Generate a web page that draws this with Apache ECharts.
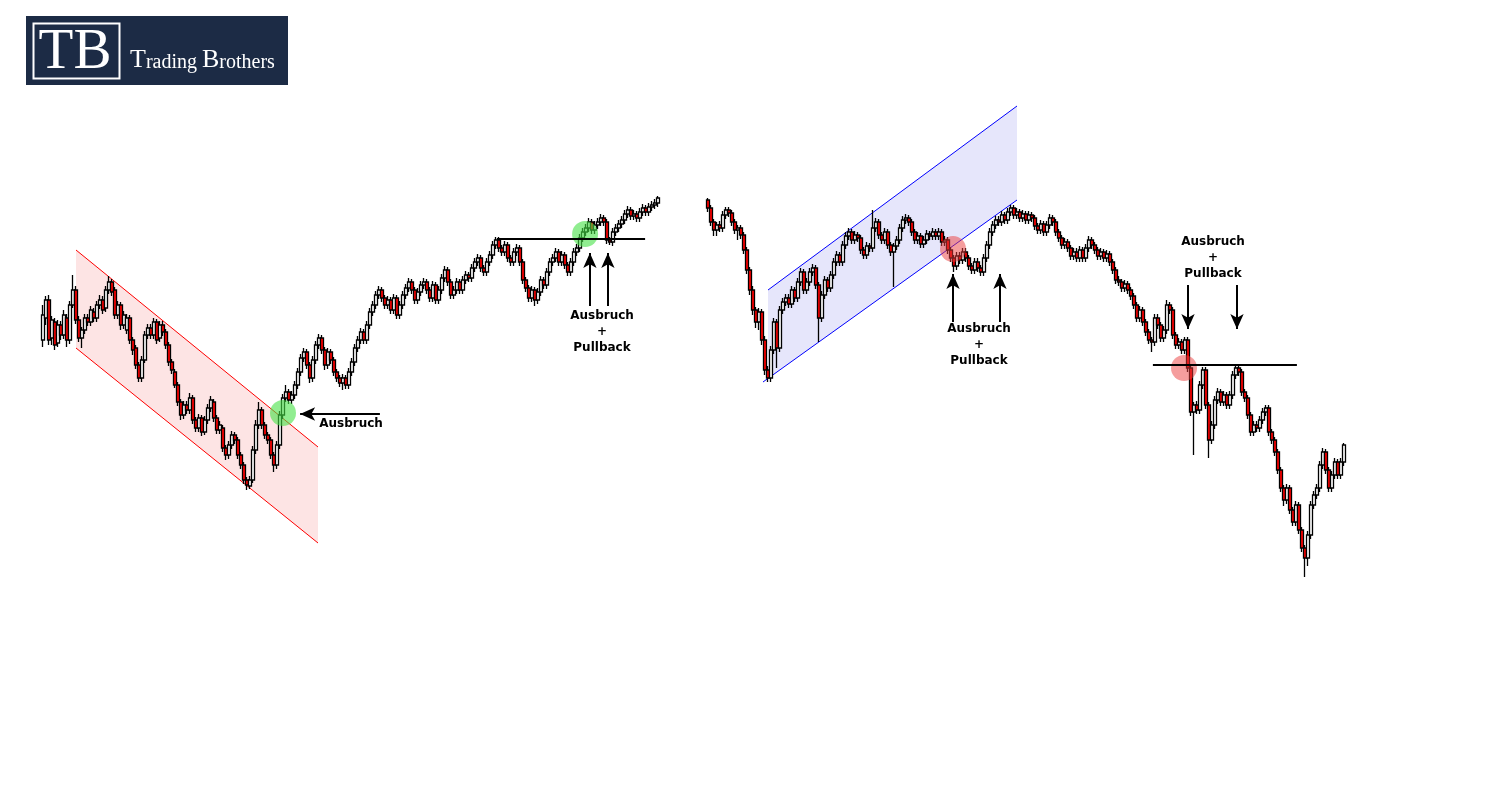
<!DOCTYPE html>
<html>
<head>
<meta charset="utf-8">
<title>Ausbruch + Pullback</title>
<script src="https://cdn.jsdelivr.net/npm/echarts@6/dist/echarts.min.js"></script>
<style>
  html, body { margin: 0; padding: 0; background: #ffffff; }
  #chart { width: 1502px; height: 812px; }
</style>
</head>
<body>
<div id="chart"></div>
<script>
// ---------- DATA (price units, [open, close, low, high]) ----------
const leftCandles = [
[660,685,653,695],[682,700,675,704],[700,660,655,705],[662,680,655,684],[678,655,650,682],
[657,675,653,680],[675,665,660,679],[665,685,661,690],[682,660,653,686],[660,695,656,699],
[695,710,692,725],[710,680,676,714],[680,662,658,684],[662,670,652,673],[670,682,666,686],
[682,678,674,686],[678,690,674,694],[688,682,678,692],[682,695,678,699],[695,700,691,705],
[700,690,686,704],[692,710,688,714],[710,718,706,724],[718,708,704,721],[710,685,681,713],
[685,695,681,699],[695,675,670,698],[675,685,671,689],[670,682,666,686],[682,660,656,685],
[660,650,645,663],[652,635,631,655],[635,622,618,638],[622,640,618,644],[640,665,637,669],
[665,672,661,676],[672,665,661,676],[665,678,661,682],[678,660,656,681],[662,675,658,679],
[675,668,664,679],[668,655,651,671],[655,638,634,658],[638,630,626,641],[628,615,612,631],
[615,598,594,618],[598,585,580,601],[585,595,581,599],[595,590,586,599],[590,602,586,607],
[602,580,576,605],[580,572,568,583],[572,582,568,586],[582,568,564,585],[568,580,565,584],
[580,592,576,596],[592,600,588,604],[598,582,578,601],[582,570,566,585],[570,575,566,579],
[572,552,548,575],[552,545,540,555],[545,555,541,559],[555,565,551,569],[565,560,556,568],
[560,545,541,563],[545,535,531,548],[535,520,516,538],[520,515,510,523],[514,520,511,524],
[520,550,517,554],[550,575,546,580],[575,590,571,598],[590,575,571,593],[575,565,561,578],
[565,560,556,568],[560,545,541,563],[545,535,528,548],[535,555,531,559],[555,585,551,589],
[585,602,581,606],[602,608,598,615],[608,600,596,611],[600,605,596,609],[605,615,601,619],
[615,628,611,632],[628,642,624,646],[642,648,638,652],[648,635,631,651],[635,622,617,638],
[622,640,618,644],[640,655,636,659],[655,662,651,666],[662,650,646,665],[650,635,630,653],
[635,648,631,652],[648,640,636,651],[640,628,624,643],[628,622,618,631],[622,617,613,625],
[617,622,610,626],[622,615,611,625],[615,628,611,632],[628,638,624,642],[638,652,634,656],
[652,660,648,664],[660,668,656,672],[668,660,656,671],[660,675,656,679],[675,688,671,692],
[688,695,684,699],[695,705,691,709],[705,710,701,714],[710,702,698,713],[702,695,691,705],
[695,700,691,704],[700,690,686,703],[690,702,686,706],[702,685,681,705],[685,695,681,699],
[695,705,691,709],[705,712,701,716],[712,718,708,722],[718,710,706,721],[710,700,696,713],
[700,708,696,712],[708,715,704,719],[715,718,711,722],[718,710,706,721],[710,702,698,713],
[702,715,698,719],[715,700,696,718],[700,710,696,714],[710,722,706,726],[722,730,718,734],
[730,718,714,733],[718,705,701,721],[705,710,701,714],[710,718,706,722],[718,710,706,721],
[710,720,706,724],[720,725,716,729],[725,722,718,728],[722,732,718,736],[732,738,728,742],
[738,742,734,746],[742,732,728,745],[732,728,724,735],[728,738,724,742],[738,745,734,749],
[745,755,741,759],[755,760,751,763],[760,752,748,763],[752,748,744,755],[748,755,744,759],
[755,742,738,758],[742,738,734,745],[738,748,734,752],[748,752,744,756],[752,738,734,755],
[738,720,716,741],[720,712,708,723],[712,702,698,715],[702,710,698,714],[710,700,694,713],
[700,708,696,712],[708,720,704,724],[720,715,711,723],[715,728,711,732],[728,738,724,742],
[738,742,734,746],[742,748,738,752],[748,738,734,751],[738,745,734,749],[745,735,731,748],
[735,728,724,738],[728,738,724,742],[738,748,734,752],[748,752,744,756],[752,762,748,766],
[762,768,758,772],[768,772,764,776],[772,778,768,782],[778,770,766,781],[770,775,766,779],
[775,778,771,782],[778,782,774,786],[782,778,774,785],[778,760,756,781],[760,758,755,763],
[758,768,754,772],[768,772,764,776],[772,776,768,780],[776,780,772,784],[780,786,776,790],
[786,790,782,794],[790,784,780,793],[784,786,780,790],[786,782,778,789],[782,788,778,792],
[788,792,784,796],[792,788,784,795],[788,793,784,797],[793,795,789,799],[795,797,791,801],
[797,802,793,804]
];

const rightCandles = [
[800,792,788,802],[792,778,774,795],[778,770,764,781],[770,775,764,778],[775,772,768,779],
[772,785,768,789],[785,790,781,793],[790,787,783,793],[787,778,774,790],[778,770,766,781],
[770,772,760,775],[772,765,761,775],[765,750,746,768],[750,730,726,753],[730,710,705,733],
[710,690,685,714],[690,678,672,693],[678,688,670,692],[688,660,655,691],[660,630,625,664],
[630,622,618,634],[622,650,618,654],[650,678,646,682],[678,652,632,681],[652,690,648,694],
[690,698,686,702],[698,702,694,706],[702,696,692,706],[696,710,692,714],[710,702,698,713],
[702,718,698,722],[718,728,714,732],[728,710,706,731],[710,718,706,722],[718,728,714,732],
[728,732,724,736],[732,715,711,735],[715,682,658,718],[682,705,678,709],[705,720,701,724],
[720,712,708,723],[712,725,708,729],[725,738,721,742],[738,745,734,749],[745,738,734,748],
[738,755,734,759],[755,764,751,768],[764,768,760,772],[768,760,756,771],[760,765,756,769],
[765,762,758,768],[762,750,746,765],[750,745,741,753],[745,754,741,758],[754,752,748,757],
[752,772,748,790],[772,778,768,782],[778,765,761,781],[765,760,756,768],[760,768,756,772],
[768,755,751,771],[755,748,744,758],[748,754,713,757],[754,760,750,764],[760,772,756,776],
[772,780,768,784],[780,782,776,786],[782,778,774,785],[778,768,764,781],[768,760,756,771],
[760,764,756,768],[764,756,752,767],[756,760,752,764],[760,766,756,770],[766,764,760,769],
[764,768,760,772],[768,764,760,771],[764,768,760,772],[768,758,754,771],[758,760,754,764],
[760,750,746,763],[750,742,738,753],[742,734,728,745],[734,744,730,748],[744,740,736,748],
[740,748,736,752],[748,742,738,752],[742,734,730,745],[734,730,726,737],[730,738,726,742],
[738,732,728,742],[732,728,724,735],[728,742,724,746],[742,755,738,759],[755,768,751,772],
[768,775,764,779],[775,780,771,784],[780,778,774,784],[778,785,774,789],[785,780,776,788],
[780,788,776,792],[788,792,784,795],[792,785,781,795],[785,788,781,792],[788,782,778,791],
[782,786,778,790],[786,780,776,789],[780,785,776,789],[785,782,778,788],[782,774,770,785],
[774,770,766,777],[770,776,766,780],[776,768,764,779],[768,775,764,779],[775,782,771,786],
[782,778,774,785],[778,768,764,781],[768,762,758,771],[762,755,751,765],[755,758,751,762],
[758,752,748,761],[752,744,740,755],[744,748,740,752],[748,742,738,752],[742,750,738,754],
[750,742,738,753],[742,752,738,756],[752,760,748,764],[760,755,751,763],[755,750,746,758],
[750,744,740,753],[744,748,740,752],[748,742,738,751],[742,746,738,750],[746,738,734,749],
[738,730,726,741],[730,720,716,733],[720,718,714,724],[718,712,708,721],[712,716,708,720],
[716,710,706,719],[710,704,700,713],[704,695,691,707],[695,682,678,698],[682,690,678,694],
[690,678,674,693],[678,668,664,681],[668,660,656,671],[660,658,648,663],[658,682,654,686],
[682,675,671,686],[675,662,658,678],[662,670,658,674],[670,695,666,700],[695,690,686,698],
[690,665,661,693],[665,655,651,668],[655,658,651,662],[658,650,646,661],[650,660,646,663],
[660,632,628,663],[632,588,584,635],[588,595,545,598],[595,590,586,599],[590,615,586,619],
[615,630,611,633],[630,595,591,633],[595,560,542,598],[560,575,556,579],[575,600,571,604],
[600,608,596,612],[608,598,594,611],[598,605,594,609],[605,595,591,608],[595,605,591,609],
[605,625,601,629],[625,632,621,636],[632,628,624,635],[628,608,604,631],[608,602,598,611],
[602,585,581,605],[585,568,564,588],[568,575,564,579],[575,572,568,579],[572,580,568,584],
[580,588,576,592],[588,592,584,595],[592,568,564,595],[568,560,556,571],[560,548,544,563],
[548,530,526,551],[530,512,508,533],[512,500,494,515],[500,512,496,516],[512,490,486,515],
[490,478,474,493],[478,495,474,499],[495,470,466,498],[470,452,448,473],[452,442,423,455],
[442,465,434,469],[465,495,461,499],[495,505,491,509],[505,512,501,516],[512,535,508,539],
[535,548,531,552],[548,530,526,551],[530,512,508,533],[512,525,508,529],[525,538,521,542],
[538,525,521,541],[525,538,521,542],[538,555,534,557]
];

// Annotations, in [candle index, price]
const leftChannelFill  = [[11,750],[91.67,553],[91.67,457],[11,652]];
const leftChannelUpper = [[11,750],[91.67,553]];
const leftChannelLower = [[11,652],[91.67,457]];
const leftCircles      = [[80,587],[180.7,766]];
const leftLevel        = [[151.3,761],[200.7,761]];
const leftArrowSide    = [[112.3,586],[85.7,586]];
const leftArrowsUp     = [[[182.3,694],[182.3,747]], [[188.3,694],[188.3,747]]];

const rightChannelFill  = [[20,710],[103,894],[103,800],[20,621.5]];
const rightChannelUpper = [[20,710],[103,894]];
const rightChannelLower = [[18.33,618],[103,800]];
const rightCircles      = [[81.67,751],[158.67,632]];
const rightLevel        = [[148.3,635],[196.3,635]];
const rightArrowsUp     = [[[81.67,678],[81.67,726]], [[97.33,678],[97.33,726]]];
const rightArrowsDown   = [[[160,715],[160,671]], [[176.33,715],[176.33,671]]];

const labelBreakout = 'Ausbruch';
const labelBreakoutPullback = ['Ausbruch', '+', 'Pullback'];

// ---------- CHART ----------
const chart = echarts.init(document.getElementById('chart'), null, { renderer: 'canvas' });
const BAND = 3;
const yMin = 188, yMax = 1000;

function channelSeries(xAxisIndex, yAxisIndex, fill, upper, lower, fillColor, lineColor) {
  return {
    type: 'custom', xAxisIndex, yAxisIndex, z: 1, silent: true, clip: false,
    data: [[fill[0][0], fill[0][1]]],
    renderItem: function (params, api) {
      const f = fill.map(p => api.coord(p));
      const u = upper.map(p => api.coord(p));
      const l = lower.map(p => api.coord(p));
      return {
        type: 'group',
        children: [
          { type: 'polygon', shape: { points: f }, style: { fill: fillColor } },
          { type: 'polyline', shape: { points: u }, style: { stroke: lineColor, lineWidth: 1, fill: null } },
          { type: 'polyline', shape: { points: l }, style: { stroke: lineColor, lineWidth: 1, fill: null } }
        ]
      };
    }
  };
}

function arrowItem(seg) {
  return [
    { coord: seg[0], symbol: 'none' },
    { coord: seg[1], symbol: 'arrow', symbolSize: [10, 15] }
  ];
}

function candleSeries(xAxisIndex, yAxisIndex, data) {
  return {
    type: 'candlestick', xAxisIndex, yAxisIndex, data, z: 2,
    barWidth: 4,
    itemStyle: {
      color: '#ffffff', color0: '#ff0000',
      borderColor: '#000000', borderColor0: '#000000', borderWidth: 1.3
    },
    silent: true
  };
}

function overlaySeries(xAxisIndex, yAxisIndex, circles, circleColor, lineItems) {
  return {
    type: 'scatter', xAxisIndex, yAxisIndex, z: 3, silent: true,
    data: circles, symbol: 'circle', symbolSize: 26,
    itemStyle: { color: circleColor, opacity: 1 },
    markLine: {
      silent: true, animation: false,
      symbol: ['none', 'none'],
      label: { show: false },
      lineStyle: { color: '#000000', width: 2, type: 'solid', opacity: 1 },
      emphasis: { disabled: true },
      data: lineItems
    }
  };
}

const leftLines = [
  [{ coord: leftLevel[0], symbol: 'none' }, { coord: leftLevel[1], symbol: 'none' }],
  arrowItem(leftArrowSide),
  ...leftArrowsUp.map(arrowItem)
];
const rightLines = [
  [{ coord: rightLevel[0], symbol: 'none' }, { coord: rightLevel[1], symbol: 'none' }],
  ...rightArrowsUp.map(arrowItem),
  ...rightArrowsDown.map(arrowItem)
];

const labelFont = 'bold 12px "DejaVu Sans", Verdana, sans-serif';
function textStack(cx, cy, lines) {
  return lines.map((t, k) => ({
    type: 'text', x: cx, y: cy + k * 16, silent: true, z: 10,
    style: { text: t, font: labelFont, fill: '#000000', align: 'center', verticalAlign: 'middle' }
  }));
}

const option = {
  animation: false,
  backgroundColor: '#ffffff',
  grid: [
    { left: 43 - BAND / 2, top: 0, width: leftCandles.length * BAND, height: 812 },
    { left: 708 - BAND / 2, top: 0, width: rightCandles.length * BAND, height: 812 }
  ],
  xAxis: [
    { gridIndex: 0, type: 'category', data: leftCandles.map((_, i) => i), boundaryGap: true, show: false },
    { gridIndex: 0, type: 'value', min: -0.5, max: leftCandles.length - 0.5, show: false },
    { gridIndex: 1, type: 'category', data: rightCandles.map((_, i) => i), boundaryGap: true, show: false },
    { gridIndex: 1, type: 'value', min: -0.5, max: rightCandles.length - 0.5, show: false }
  ],
  yAxis: [
    { gridIndex: 0, type: 'value', min: yMin, max: yMax, show: false, splitLine: { show: false } },
    { gridIndex: 1, type: 'value', min: yMin, max: yMax, show: false, splitLine: { show: false } }
  ],
  series: [
    channelSeries(1, 0, leftChannelFill, leftChannelUpper, leftChannelLower, '#fde4e4', '#ff0000'),
    candleSeries(0, 0, leftCandles),
    overlaySeries(1, 0, leftCircles, 'rgba(70,225,70,0.6)', leftLines),
    channelSeries(3, 1, rightChannelFill, rightChannelUpper, rightChannelLower, '#e6e6fb', '#0000ff'),
    candleSeries(2, 1, rightCandles),
    overlaySeries(3, 1, rightCircles, 'rgba(235,60,60,0.5)', rightLines)
  ],
  graphic: [
    { type: 'rect', shape: { x: 26, y: 16, width: 262, height: 69 }, style: { fill: '#1c2b45' }, silent: true },
    { type: 'rect', shape: { x: 33.5, y: 23.5, width: 86, height: 55 }, style: { fill: null, stroke: '#ffffff', lineWidth: 2 }, silent: true },
    { type: 'text', x: 75, y: 53, silent: true,
      style: { text: 'TB', font: '57px "Liberation Serif", "DejaVu Serif", serif', fill: '#ffffff', align: 'center', verticalAlign: 'middle' } },
    { type: 'text', x: 130, y: 73, silent: true,
      style: {
        text: '{c|T}{l|rading }{c|B}{l|rothers}', align: 'left', verticalAlign: 'bottom', fill: '#ffffff',
        rich: {
          c: { fontFamily: '"Liberation Serif", serif', fontSize: 26, fill: '#ffffff', verticalAlign: 'bottom' },
          l: { fontFamily: '"Liberation Serif", serif', fontSize: 20, fill: '#ffffff', verticalAlign: 'bottom' }
        }
      } },
    ...textStack(351, 424, [labelBreakout]),
    ...textStack(602, 316, labelBreakoutPullback),
    ...textStack(979, 329, labelBreakoutPullback),
    ...textStack(1213, 242, labelBreakoutPullback)
  ]
};
chart.setOption(option);
</script>
</body>
</html>
